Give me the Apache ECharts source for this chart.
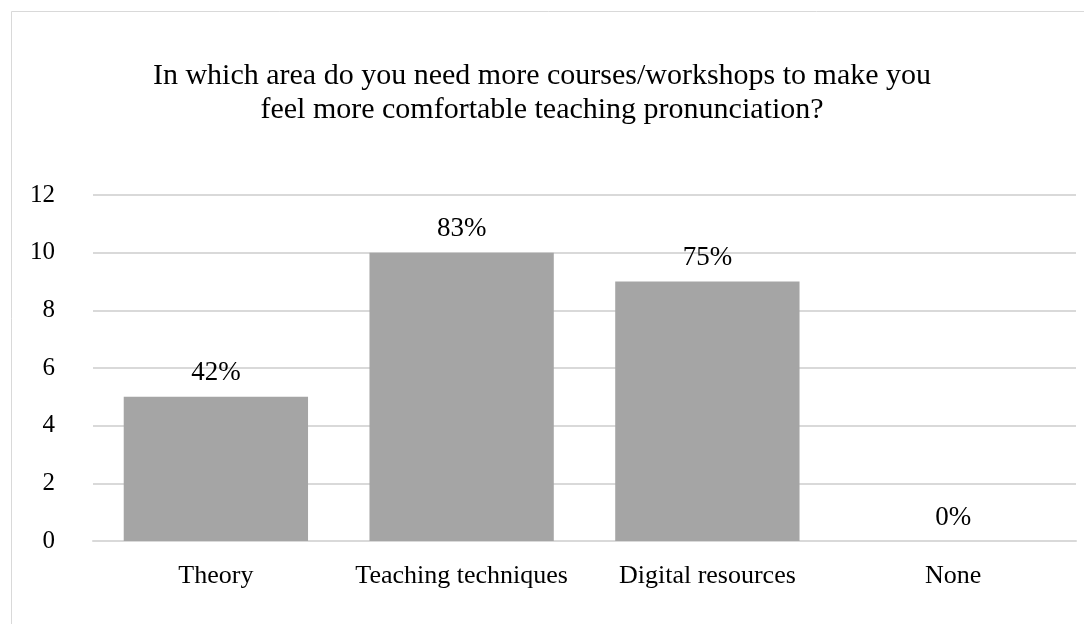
<!DOCTYPE html>
<html>
<head>
<meta charset="utf-8">
<script src="https://cdn.jsdelivr.net/npm/echarts@6/dist/echarts.min.js"></script>
<style>html,body{margin:0;padding:0;background:#fff;}#c{width:1084px;height:624px;}</style>
</head>
<body>
<div id="c"></div>
<script>
const titleText = "In which area do you need more courses/workshops to make you\nfeel more comfortable teaching pronunciation?";
const categories = ["Theory", "Teaching techniques", "Digital resources", "None"];
const counts = [5, 10, 9, 0];
const percentLabels = ["42%", "83%", "75%", "0%"];
const yTicks = { min: 0, max: 12, interval: 2 };

const font = "'Liberation Serif', 'Times New Roman', serif";
const chart = echarts.init(document.getElementById('c'), null, { renderer: 'canvas' });
chart.setOption({
  backgroundColor: '#ffffff',
  animation: false,
  graphic: [{
    type: 'rect', silent: true, z: -1,
    shape: { x: 11.5, y: 11.5, width: 1090, height: 640 },
    style: { fill: 'none', stroke: '#d9d9d9', lineWidth: 1 }
  }],
  title: {
    text: titleText, left: 'center', top: 54,
    textStyle: { fontFamily: font, fontSize: 30, fontWeight: 'normal', color: '#000', lineHeight: 34 }
  },
  grid: { left: 93, right: 8, top: 195, bottom: 83 },
  xAxis: {
    type: 'category', data: categories,
    axisLine: { lineStyle: { color: '#d9d9d9', width: 2 } },
    axisTick: { show: false },
    axisLabel: { fontFamily: font, fontSize: 26, color: '#000', margin: 22, interval: 0 }
  },
  yAxis: {
    type: 'value', min: yTicks.min, max: yTicks.max, interval: yTicks.interval,
    axisLine: { show: false }, axisTick: { show: false },
    splitLine: { lineStyle: { color: '#d9d9d9', width: 2 } },
    axisLabel: { fontFamily: font, fontSize: 25, color: '#000', margin: 38 }
  },
  series: [{
    type: 'bar', data: counts, barWidth: '75%',
    itemStyle: { color: '#a5a5a5' },
    label: {
      show: true, position: 'top', distance: 10,
      fontFamily: font, fontSize: 27, color: '#000',
      formatter: p => percentLabels[p.dataIndex]
    }
  }]
});
</script>
</body>
</html>
